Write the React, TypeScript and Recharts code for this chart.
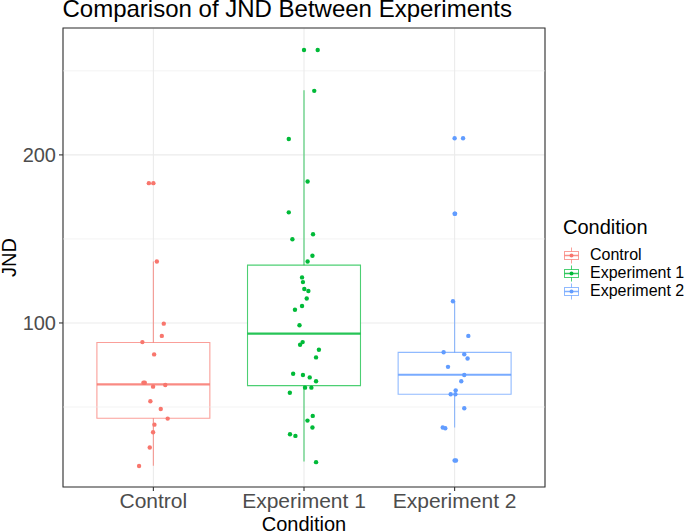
import React from 'react';
import {
  ComposedChart, Scatter, XAxis, YAxis, CartesianGrid, ReferenceArea, ReferenceLine,
} from 'recharts';

const CATEGORIES = ['Control', 'Experiment 1', 'Experiment 2'];
const COLORS = ['#F8766D', '#00BA38', '#619CFF'];

// jittered observations: x is category position (1..3) plus jitter, y is JND
const CONTROL_X = [0.970, 1.023, 1.069, 1.056, 0.927, 1.005, 0.934, 0.943, 0.998, 1.079, 0.980, 1.049, 1.095, 1.007, 0.998, 0.976, 0.905];
const CONTROL_Y = [183.2, 136.6, 99.6, 92.3, 88.6, 81.3, 64.4, 64.4, 62.1, 63.1, 53.4, 48.8, 43.1, 39.5, 35.0, 25.9, 14.9];

const EXP1_X = [2.091, 2.068, 1.899, 2.024, 1.899, 1.923, 2.060, 2.056, 2.024, 1.987, 1.993, 2.002, 2.029, 2.018, 1.987, 1.940, 1.970, 1.991, 1.974, 2.099, 2.080, 1.928, 1.993, 2.038, 2.080, 2.007, 2.049, 1.906, 2.058, 2.023, 2.056, 1.907, 1.943, 2.080];
const EXP1_Y = [262.4, 238.1, 209.5, 184.2, 165.8, 149.8, 152.8, 140.0, 136.6, 127.1, 124.3, 120.2, 119.0, 114.6, 110.1, 107.9, 98.6, 88.6, 87.0, 84.1, 79.5, 69.8, 69.0, 67.6, 65.3, 61.5, 61.5, 58.5, 44.7, 41.9, 37.8, 33.8, 32.8, 17.2];

const EXP2_X = [3.056, 3.003, 2.989, 3.091, 2.927, 3.064, 3.086, 2.956, 3.064, 3.044, 3.007, 2.974, 3.005, 3.064, 2.921, 2.938, 3.009];
const EXP2_Y = [209.9, 165.0, 112.9, 92.3, 82.6, 81.4, 78.9, 73.9, 69.0, 65.3, 59.9, 57.6, 57.6, 49.3, 37.8, 37.4, 18.2];

// boxplot summaries: [lower whisker, Q1, median, Q3, upper whisker]
const CONTROL_BOX = [15.1, 43.3, 63.5, 88.4, 136.6];
const EXP1_BOX = [17.6, 62.7, 93.7, 134.4, 238.4];
const EXP2_BOX = [37.8, 57.6, 69.2, 82.5, 112.9];

const CONTROL_OUT = [183.2];
const EXP1_OUT = [262.4];
const EXP2_OUT = [209.9, 165.0, 18.2];

const Y_TICKS = [100, 200];
const Y_MINOR = [50, 150, 250];
const Y_DOMAIN = [2.4, 275.5];

const GROUPS = [
  { xs: CONTROL_X, ys: CONTROL_Y, box: CONTROL_BOX, out: CONTROL_OUT },
  { xs: EXP1_X, ys: EXP1_Y, box: EXP1_BOX, out: EXP1_OUT },
  { xs: EXP2_X, ys: EXP2_Y, box: EXP2_BOX, out: EXP2_OUT },
];

const FONT = '"Liberation Sans", Arial, sans-serif';

const dot = (color: string) => (p: any) => (
  <circle cx={p.cx} cy={p.cy} r={2.2} fill={color} />
);

function KeyGlyph({ color }: { color: string }) {
  return (
    <svg width={17} height={17} style={{ display: 'block' }}>
      <line x1={8.5} y1={0.5} x2={8.5} y2={16.5} stroke={color} strokeOpacity={0.7} />
      <rect x={1.5} y={4.5} width={14} height={8} fill="#fff" stroke={color} strokeOpacity={0.7} />
      <line x1={1.5} y1={8.5} x2={15.5} y2={8.5} stroke={color} strokeOpacity={0.8} strokeWidth={1.5} />
      <circle cx={8.5} cy={8.5} r={2} fill={color} />
    </svg>
  );
}

export default function App() {
  return (
    <div style={{ position: 'absolute', left: 0, top: 0, width: 685, height: 532, background: '#fff', fontFamily: FONT, overflow: 'hidden' }}>
      <div style={{ position: 'absolute', left: 62.5, top: -2.8, fontSize: 24, lineHeight: '24px', color: '#000', whiteSpace: 'nowrap' }}>
        Comparison of JND Between Experiments
      </div>

      <ComposedChart width={685} height={532} margin={{ top: 28, right: 140, left: 0, bottom: 0 }} style={{ fontFamily: FONT }}>
        <CartesianGrid stroke="#ebebeb" strokeWidth={1.1} />
        {Y_MINOR.map((v) => (
          <ReferenceLine key={'m' + v} y={v} stroke="#ebebeb" strokeWidth={0.6} />
        ))}
        <XAxis
          type="number" dataKey="x" domain={[0.4, 3.6]} ticks={[1, 2, 3]} interval={0}
          allowDataOverflow axisLine={false} tickSize={4} tickMargin={2}
          tickLine={{ stroke: '#333333', strokeWidth: 1.1 }}
          tick={{ fill: '#4d4d4d', fontSize: 21 }}
          tickFormatter={(v: number) => CATEGORIES[v - 1]}
          height={45}
          label={{ value: 'Condition', position: 'insideBottom', offset: 1, style: { fontSize: 20, fill: '#000' } }}
        />
        <YAxis
          type="number" domain={Y_DOMAIN} ticks={Y_TICKS} allowDataOverflow axisLine={false}
          tickSize={4} tickMargin={3} tickLine={{ stroke: '#333333', strokeWidth: 1.1 }}
          tick={{ fill: '#4d4d4d', fontSize: 20 }} width={63}
          label={{ value: 'JND', angle: -90, position: 'insideLeft', offset: 8.5, style: { fontSize: 20, fill: '#000', textAnchor: 'middle' } }}
        />
        {GROUPS.map((g, i) => (
          <ReferenceArea
            key={'b' + i} x1={i + 1 - 0.375} x2={i + 1 + 0.375} y1={g.box[1]} y2={g.box[3]}
            fill="#ffffff" fillOpacity={1} stroke={COLORS[i]} strokeOpacity={0.7} strokeWidth={1.1}
          />
        ))}
        {GROUPS.map((g, i) => (
          <ReferenceLine
            key={'wu' + i} segment={[{ x: i + 1, y: g.box[3] }, { x: i + 1, y: g.box[4] }]}
            stroke={COLORS[i]} strokeOpacity={0.7} strokeWidth={1.1}
          />
        ))}
        {GROUPS.map((g, i) => (
          <ReferenceLine
            key={'wl' + i} segment={[{ x: i + 1, y: g.box[0] }, { x: i + 1, y: g.box[1] }]}
            stroke={COLORS[i]} strokeOpacity={0.7} strokeWidth={1.1}
          />
        ))}
        {GROUPS.map((g, i) => (
          <ReferenceLine
            key={'md' + i} segment={[{ x: i + 1 - 0.375, y: g.box[2] }, { x: i + 1 + 0.375, y: g.box[2] }]}
            stroke={COLORS[i]} strokeOpacity={0.85} strokeWidth={2.2}
          />
        ))}
        {GROUPS.map((g, i) => (
          <Scatter
            key={'o' + i} data={g.out.map((y) => ({ x: i + 1, y }))} dataKey="y"
            shape={dot(COLORS[i])} isAnimationActive={false}
          />
        ))}
        {GROUPS.map((g, i) => (
          <Scatter
            key={'p' + i} data={g.xs.map((x, k) => ({ x, y: g.ys[k] }))} dataKey="y"
            shape={dot(COLORS[i])} isAnimationActive={false}
          />
        ))}
        <ReferenceArea x1={0.4} x2={3.6} y1={Y_DOMAIN[0]} y2={Y_DOMAIN[1]} fill="none" stroke="#333333" strokeWidth={1.1} />
      </ComposedChart>

      <div style={{ position: 'absolute', left: 563, top: 217, fontSize: 20, lineHeight: '20px', color: '#000' }}>Condition</div>
      {CATEGORIES.map((c, i) => (
        <div key={c} style={{ position: 'absolute', left: 563, top: 246 + i * 18, height: 18, display: 'flex', alignItems: 'center' }}>
          <KeyGlyph color={COLORS[i]} />
          <span style={{ marginLeft: 10, fontSize: 16, color: '#000', whiteSpace: 'nowrap' }}>{c}</span>
        </div>
      ))}
    </div>
  );
}
